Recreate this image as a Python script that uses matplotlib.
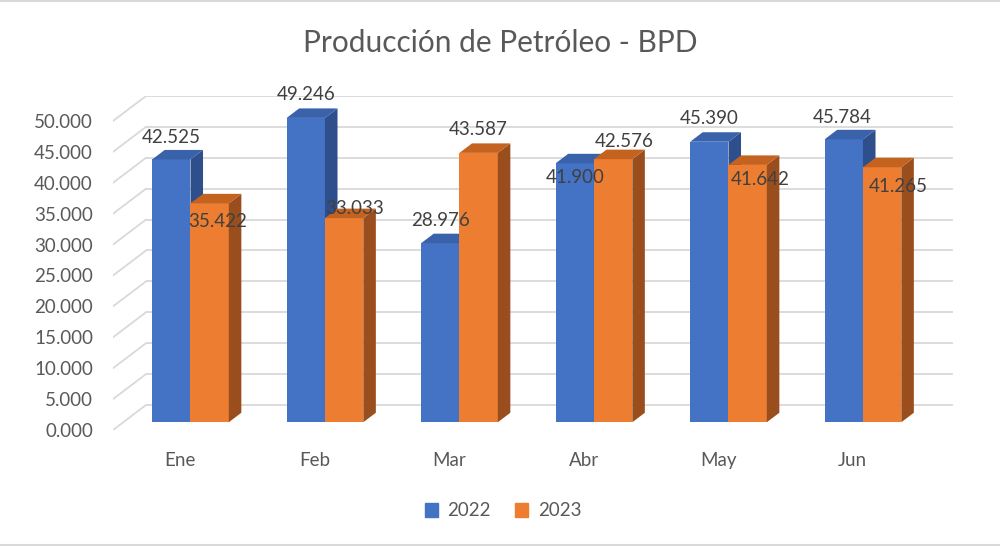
import matplotlib.pyplot as plt
from matplotlib.patches import Polygon, Patch
from matplotlib.lines import Line2D

# datos
meses = ["Ene", "Feb", "Mar", "Abr", "May", "Jun"]
prod_2022 = [42525, 49246, 28976, 41900, 45390, 45784]
prod_2023 = [35422, 33033, 43587, 42576, 41642, 41265]
series = ["2022", "2023"]
ticks_y = list(range(0, 50001, 5000))

# colores (cara frontal, superior, lateral)
colores = {
    "2022": ("#4472C4", "#3A62AB", "#2E4F8B"),
    "2023": ("#ED7D31", "#C4621F", "#9B4E1D"),
}
texto = "#595959"
grid_col = "#D9D9D9"
fuente = "Lato"

# geometria del pseudo-3D (en pixeles)
W, H = 1000, 546
x_izq, x_der = 113, 953          # frente izquierdo / pared trasera derecha
y_cero, y_50k = 430, 121         # frente
prof_px = (33, 25)               # desplazamiento total de profundidad
px_cat = (x_der - prof_px[0] - x_izq) / len(meses)
px_val = (y_cero - y_50k) / 50000
DX = prof_px[0] / px_cat
DY = prof_px[1] / px_val
f0, f1 = 0.31, 0.69              # profundidad de las barras
ancho = 0.285

fig = plt.figure(figsize=(W / 100, H / 100), dpi=100)
ax = fig.add_axes([x_izq / W, 1 - y_cero / H, (x_der - x_izq) / W,
                   (y_cero - (y_50k - prof_px[1])) / H])
ax.set_xlim(-0.5, len(meses) - 0.5 + DX)
ax.set_ylim(0, 50000 + DY)
for s in ax.spines.values():
    s.set_visible(False)

# pared trasera y lateral
for v in ticks_y:
    ax.plot([-0.5 + DX, len(meses) - 0.5 + DX], [v + DY, v + DY],
            color=grid_col, lw=1.3, zorder=1, solid_capstyle="butt")
    ax.plot([-0.5, -0.5 + DX], [v, v + DY], color=grid_col, lw=1.3, zorder=1)


def barra(x0, h, cols):
    fr, top, lado = cols
    ox, oy = f0 * DX, f0 * DY
    dx, dy = (f1 - f0) * DX, (f1 - f0) * DY
    xa, xb = x0 + ox, x0 + ancho + ox
    ax.add_patch(Polygon([(xa, oy), (xb, oy), (xb, h + oy), (xa, h + oy)],
                         closed=True, fc=fr, ec="none", zorder=3))
    ax.add_patch(Polygon([(xb, oy), (xb + dx, oy + dy), (xb + dx, h + oy + dy), (xb, h + oy)],
                         closed=True, fc=lado, ec="none", zorder=3))
    ax.add_patch(Polygon([(xa, h + oy), (xb, h + oy), (xb + dx, h + oy + dy), (xa + dx, h + oy + dy)],
                         closed=True, fc=top, ec="none", zorder=3))
    return (xa + xb) / 2, h + oy


# desplazamiento de etiquetas (pixeles: dx, dy hacia arriba)
off_2022 = [(0, 22), (0, 23), (0, 23), (0, -14), (0, 23), (-2, 22)]
off_2023 = [(8, -18), (10, 10), (0, 23), (11, 18), (13, -15), (16, -19)]

etiquetas = []
for i in range(len(meses)):
    for k, (nombre, vals, offs) in enumerate(zip(series, [prod_2022, prod_2023],
                                                  [off_2022, off_2023])):
        cx, cy = barra(i - ancho + k * ancho, vals[i], colores[nombre])
        etiquetas.append((cx + offs[i][0] / px_cat, cy + offs[i][1] / px_val,
                          f"{vals[i]:,}".replace(",", ".")))

for x, y, t in etiquetas:
    ax.text(x, y, t, ha="center", va="center", fontsize=13.5, color="#404040",
            family=fuente, zorder=5)

ax.set_xticks(range(len(meses)))
ax.set_xticklabels(meses)
ax.set_yticks(ticks_y)
ax.set_yticklabels([f"{v / 1000:.3f}" for v in ticks_y])
ax.tick_params(length=0, labelsize=13.5, labelcolor=texto)
ax.tick_params(axis="y", pad=14.4)
ax.tick_params(axis="x", pad=15.5)
for lab in ax.get_xticklabels() + ax.get_yticklabels():
    lab.set_family(fuente)

fig.text(0.5, 1 - 43 / H, "Producción de Petróleo - BPD", ha="center", va="center",
         fontsize=21.5, color=texto, family=fuente)

handles = [Patch(color=colores[s][0], label=s) for s in series]
leg = fig.legend(handles=handles, loc="center", ncol=2, frameon=False,
                 bbox_to_anchor=(0.503, 1 - 511 / H), handlelength=0.7, handleheight=0.7,
                 handletextpad=0.5, columnspacing=1.3,
                 prop={"family": fuente, "size": 13.5})
for t in leg.get_texts():
    t.set_color(texto)

fig.add_artist(Line2D([0, 1], [0.999, 0.999], color=grid_col, lw=1.5))
fig.add_artist(Line2D([0, 1], [0.002, 0.002], color=grid_col, lw=1.5))

fig.savefig("out.png", dpi=100)
